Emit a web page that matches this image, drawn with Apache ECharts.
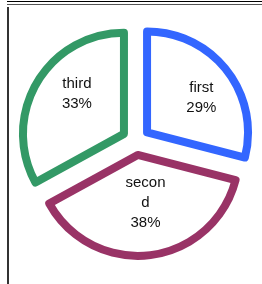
<!DOCTYPE html>
<html>
<head>
<meta charset="utf-8">
<script src="https://cdn.jsdelivr.net/npm/echarts@6/dist/echarts.min.js"></script>
<style>
html,body{margin:0;padding:0;background:#fff;}
#chart{width:262px;height:284px;}
</style>
</head>
<body>
<div id="chart"></div>
<script>
var categories = ['first', 'second', 'third'];
var values = [29, 38, 33];
var colors = ['#3366ff', '#993366', '#339966'];

var chart = echarts.init(document.getElementById('chart'), null, {renderer: 'canvas'});
var data = categories.map(function (c, i) {
  return {
    name: c,
    value: values[i],
    selected: true,
    itemStyle: {borderColor: colors[i]}
  };
});
// small per-slice nudges of the inside labels
var labelShift = [[12, -2], [1, -5], [-1, -13]];
chart.setOption({
  animation: false,
  backgroundColor: '#ffffff',
  graphic: [
    {type: 'line', shape: {x1: 7, y1: 1.5, x2: 262, y2: 1.5}, style: {stroke: '#000', lineWidth: 1}},
    {type: 'line', shape: {x1: 7, y1: 4.5, x2: 262, y2: 4.5}, style: {stroke: '#555', lineWidth: 1}},
    {type: 'line', shape: {x1: 8, y1: 7, x2: 8, y2: 284}, style: {stroke: '#333', lineWidth: 2}}
  ],
  series: [{
    type: 'pie',
    center: [136, 141],
    radius: 101,
    startAngle: 90,
    clockwise: true,
    selectedMode: 'multiple',
    selectedOffset: 14,
    avoidLabelOverlap: false,
    itemStyle: {color: '#ffffff', borderWidth: 8, borderJoin: 'round'},
    label: {
      show: true,
      position: 'inside',
      formatter: '{b}\n{d}%',
      color: '#111',
      fontFamily: 'Liberation Sans, Arial, sans-serif',
      fontSize: 15,
      lineHeight: 20,
      width: 42,
      overflow: 'break',
      align: 'center'
    },
    labelLayout: function (p) {
      var s = labelShift[p.dataIndex];
      return {dx: s[0], dy: s[1]};
    },
    labelLine: {show: false},
    emphasis: {disabled: true},
    data: data
  }]
});
</script>
</body>
</html>
